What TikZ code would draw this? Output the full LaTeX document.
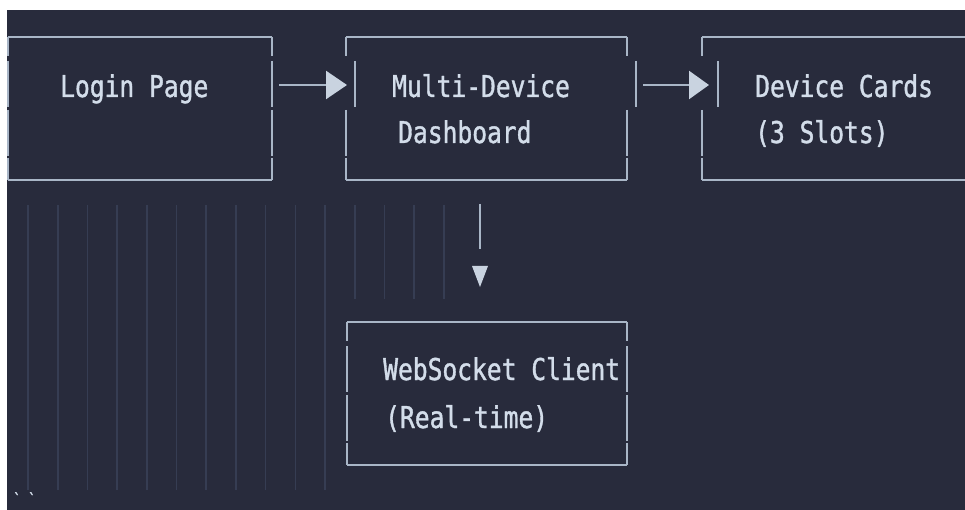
\documentclass[tikz,border=0pt]{standalone}
\usepackage{fontspec}
\newfontfamily\codefont[FakeStretch=0.82, FakeBold=1.2]{DejaVu Sans Mono}
\usetikzlibrary{arrows.meta}

\definecolor{canvas}{HTML}{282B3C}
\definecolor{frameline}{HTML}{A9B6C7}
\definecolor{labeltext}{HTML}{D3DDEA}
\definecolor{guide}{HTML}{363D53}
\definecolor{tipfill}{HTML}{C9D3E0}

\tikzset{
  frame/.style={draw=frameline, line width=2.4pt, line cap=butt},
  guideline/.style={draw=guide, line width=1.6pt},
  link/.style={draw=frameline, line width=2.4pt},
  tiptri/.style={fill=tipfill},
  label/.style={text=labeltext, font=\codefont\fontsize{30}{30}\selectfont,
                anchor=base west, inner sep=0pt},
}

% one vertical side of a text-art frame: column x=#1, frame top y=#2,
% the bar on the first text row shifted right by #3
\newcommand{\framecol}[3]{%
  \draw[frame] (#1,#2) -- ++(0,19)
               (#1+#3,#2+24) -- ++(0,46)
               (#1,#2+73) -- ++(0,46)
               (#1,#2+121) -- ++(0,22);
}

\begin{document}
\begin{tikzpicture}[x=1pt, y=-1pt]
  \useasboundingbox (0,0) rectangle (965,510);
  \fill[white] (0,0) rectangle (965,510);
  \fill[canvas] (7,10) rectangle (965,510);

  % indentation guides
  \foreach \k in {0,...,10}
    \draw[guideline] (28+29.7*\k,205) -- (28+29.7*\k,490);
  \foreach \k in {11,...,14}
    \draw[guideline] (28+29.7*\k,205) -- (28+29.7*\k,299);

  % frames
  \draw[frame] (8,37) -- (272,37) (8,180) -- (272,180);
  \framecol{8}{37}{0}
  \framecol{272}{37}{0}

  \draw[frame] (346,37) -- (627,37) (346,180) -- (627,180);
  \framecol{346}{37}{9}
  \framecol{627}{37}{9}

  \draw[frame] (702,37) -- (966,37) (702,180) -- (966,180);
  \framecol{702}{37}{16}

  \draw[frame] (347,322) -- (627,322) (347,465) -- (627,465);
  \framecol{347}{322}{0}
  \framecol{627}{322}{0}

  % labels
  \node[label] (login) at (60,97) {Login Page};
  \node[label] (dash)  at (392,97) {Multi-Device};
  \node[label] (dash2) at (398,143) {Dashboard};
  \node[label] (cards) at (755,97) {Device Cards};
  \node[label] (cards2) at (755,143) {(3 Slots)};
  \node[label] (ws)    at (383,380) {WebSocket Client};
  \node[label] (ws2)   at (385,428) {(Real-time)};
  \node[text=labeltext, font=\codefont\fontsize{16}{16}\selectfont,
        anchor=base west, inner sep=0pt] (ticks) at (13,505) {`\hspace{7pt}`};

  % connectors
  \coordinate (login-e) at (279,85);
  \coordinate (dash-w)  at (347,85);
  \coordinate (dash-e)  at (643,85);
  \coordinate (cards-w) at (709,85);
  \coordinate (dash-s)  at (480,204);
  \coordinate (ws-n)    at (480,287);

  \draw[link, -{Triangle[length=21pt, width=28pt, color=tipfill]}] (login-e) -- (dash-w);
  \draw[link, -{Triangle[length=20pt, width=28pt, color=tipfill]}] (dash-e) -- (cards-w);
  \draw[link] (dash-s) -- ++(0,45);
  \fill[tiptri] (ws-n) -- ++(-8,-21) -- ++(16,0) -- cycle;
\end{tikzpicture}
\end{document}
